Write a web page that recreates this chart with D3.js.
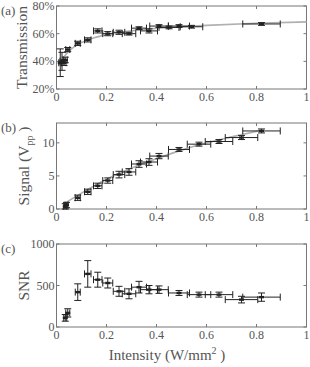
<!DOCTYPE html>
<html lang="en">
<head>
<meta charset="UTF-8">
<script src="https://d3js.org/d3.v7.min.js"></script>
<style>
  body { margin: 0; background: #fff; }
  svg text { fill: #555; }
</style>
</head>
<body>
<svg id="chart" width="310" height="367"></svg>
<script>
// Panel (a): transmission vs intensity
const transX    = [0.015, 0.022, 0.03, 0.035, 0.045, 0.085, 0.125, 0.165, 0.205, 0.25, 0.29, 0.33, 0.37, 0.41, 0.45, 0.49, 0.54, 0.82];
const transY    = [39, 40, 39, 41, 48.5, 53, 55.5, 62, 60, 61, 60, 64, 62, 65.5, 64.5, 65.5, 65, 67];
const transXErr = [0.006, 0.008, 0.008, 0.008, 0.008, 0.01, 0.013, 0.017, 0.02, 0.023, 0.027, 0.03, 0.034, 0.037, 0.04, 0.042, 0.045, 0.075];
const transYErr = [10, 6.5, 2, 2, 1.5, 1.5, 1.5, 1.5, 1.5, 1.5, 1, 1, 1.5, 1, 1, 1, 1, 1];
const transFitX = [0.01, 0.02, 0.04, 0.06, 0.08, 0.1, 0.15, 0.2, 0.3, 0.4, 0.5, 0.6, 0.8, 1.0];
const transFitY = [37, 40.5, 45.5, 49, 51.5, 53.5, 57, 59.3, 62, 63.8, 65, 66, 67.5, 68.5];

// Panel (b): signal (Vpp) vs intensity
const sigX    = [0.035, 0.04, 0.085, 0.125, 0.165, 0.205, 0.25, 0.29, 0.33, 0.37, 0.41, 0.49, 0.57, 0.65, 0.74, 0.82];
const sigY    = [0.4, 0.6, 1.7, 2.6, 3.5, 4.3, 5.2, 5.6, 6.8, 7.1, 8.0, 9.0, 9.8, 10.2, 10.8, 11.8];
const sigXErr = [0.006, 0.006, 0.01, 0.013, 0.017, 0.02, 0.023, 0.027, 0.03, 0.034, 0.037, 0.042, 0.047, 0.055, 0.065, 0.075];
const sigYErr = [0.4, 0.4, 0.4, 0.4, 0.4, 0.4, 0.5, 0.5, 0.5, 0.5, 0.4, 0.3, 0.3, 0.3, 0.3, 0.3];
const sigFitX = [0.03, 0.1, 0.2, 0.3, 0.4, 0.5, 0.6, 0.7, 0.82];
const sigFitY = [0.8, 2.4, 4.5, 6.2, 7.6, 8.9, 10.0, 10.9, 11.9];

// Panel (c): SNR vs intensity
const snrX    = [0.035, 0.045, 0.085, 0.125, 0.165, 0.205, 0.25, 0.29, 0.33, 0.37, 0.41, 0.49, 0.57, 0.65, 0.74, 0.82];
const snrY    = [110, 170, 420, 640, 570, 530, 430, 400, 480, 450, 450, 410, 390, 390, 330, 360];
const snrXErr = [0.006, 0.008, 0.01, 0.013, 0.017, 0.02, 0.023, 0.027, 0.03, 0.034, 0.037, 0.042, 0.047, 0.055, 0.065, 0.075];
const snrYErr = [40, 50, 100, 160, 90, 60, 60, 60, 70, 50, 45, 30, 30, 30, 40, 50];

const xTicks = [0, 0.2, 0.4, 0.6, 0.8, 1];

const serif = "Liberation Serif";
const svg = d3.select("#chart");
const x = d3.scaleLinear().domain([0, 1]).range([56.5, 306.5]);
const axisColor = "#777";

function panel(cfg) {
  const y = d3.scaleLinear().domain(cfg.domain).range([cfg.bottom, cfg.top]);
  const g = svg.append("g");

  // box
  g.append("rect")
    .attr("x", x(0)).attr("y", cfg.top)
    .attr("width", x(1) - x(0)).attr("height", cfg.bottom - cfg.top)
    .attr("fill", "none").attr("stroke", axisColor).attr("stroke-width", 1);

  // inward ticks, bottom/top
  xTicks.forEach(t => {
    g.append("line").attr("x1", x(t)).attr("x2", x(t))
      .attr("y1", cfg.bottom).attr("y2", cfg.bottom - 3).attr("stroke", axisColor);
    g.append("line").attr("x1", x(t)).attr("x2", x(t))
      .attr("y1", cfg.top).attr("y2", cfg.top + 3).attr("stroke", axisColor);
    g.append("text").attr("x", x(t)).attr("y", cfg.bottom + 12)
      .attr("font-family", serif)
      .attr("text-anchor", "middle").attr("font-size", 12).text(d3.format("")(t));
  });
  cfg.yTicks.forEach((t, i) => {
    g.append("line").attr("x1", x(0)).attr("x2", x(0) + 3)
      .attr("y1", y(t)).attr("y2", y(t)).attr("stroke", axisColor);
    g.append("line").attr("x1", x(1)).attr("x2", x(1) - 3)
      .attr("y1", y(t)).attr("y2", y(t)).attr("stroke", axisColor);
    g.append("text").attr("x", x(0) - 2).attr("y", y(t) + 4)
      .attr("font-family", serif)
      .attr("text-anchor", "end").attr("font-size", 12).text(cfg.yTickLabels[i]);
  });

  // fit curve
  if (cfg.fitX) {
    const pts = cfg.fitX.map((v, i) => [v, cfg.fitY[i]]);
    g.append("path").datum(pts)
      .attr("fill", "none").attr("stroke", "#b0b0b0").attr("stroke-width", 1.6)
      .attr("d", d3.line().x(d => x(d[0])).y(d => y(d[1])).curve(d3.curveMonotoneX));
  }

  // error bars
  const eb = g.append("g").attr("stroke", "#222").attr("stroke-width", 1);
  cfg.xs.forEach((xv, i) => {
    const yv = cfg.ys[i], xe = cfg.xerr[i], ye = cfg.yerr[i];
    const cx = x(xv), cy = y(yv);
    const capH = 3.5;
    eb.append("line").attr("x1", x(xv - xe)).attr("x2", x(xv + xe)).attr("y1", cy).attr("y2", cy);
    eb.append("line").attr("x1", x(xv - xe)).attr("x2", x(xv - xe)).attr("y1", cy - capH).attr("y2", cy + capH);
    eb.append("line").attr("x1", x(xv + xe)).attr("x2", x(xv + xe)).attr("y1", cy - capH).attr("y2", cy + capH);
    eb.append("line").attr("x1", cx).attr("x2", cx).attr("y1", y(yv - ye)).attr("y2", y(yv + ye));
    eb.append("line").attr("x1", cx - capH).attr("x2", cx + capH).attr("y1", y(yv - ye)).attr("y2", y(yv - ye));
    eb.append("line").attr("x1", cx - capH).attr("x2", cx + capH).attr("y1", y(yv + ye)).attr("y2", y(yv + ye));
    g.append("rect").attr("x", cx - 2.5).attr("y", cy - 1.2).attr("width", 5).attr("height", 2.4).attr("fill", "#222");
  });

  // labels
  g.append("text").attr("x", 1).attr("y", cfg.top + 9)
    .attr("font-family", serif)
    .attr("font-size", 13).text(cfg.tag);
  g.append("text")
    .attr("transform", `translate(${cfg.labelX},${(cfg.top + cfg.bottom) / 2}) rotate(-90)`)
    .attr("font-family", serif)
    .attr("text-anchor", "middle").attr("font-size", 15.5)
    .html(cfg.ylabel);
  return y;
}

panel({
  tag: "(a)", top: 6, bottom: 89, domain: [20, 80],
  yTicks: [20, 40, 60, 80], yTickLabels: ["20%", "40%", "60%", "80%"],
  xs: transX, ys: transY, xerr: transXErr, yerr: transYErr,
  fitX: transFitX, fitY: transFitY,
  labelX: 27, ylabel: "Transmission"
});

panel({
  tag: "(b)", top: 123, bottom: 209, domain: [0, 13],
  yTicks: [0, 5, 10], yTickLabels: ["0", "5", "10"],
  xs: sigX, ys: sigY, xerr: sigXErr, yerr: sigYErr,
  fitX: sigFitX, fitY: sigFitY,
  labelX: 29, ylabel: 'Signal (V<tspan font-size="10" dy="4">pp</tspan><tspan dy="-4"> )</tspan>'
});

panel({
  tag: "(c)", top: 244, bottom: 327, domain: [0, 1000],
  yTicks: [0, 500, 1000], yTickLabels: ["0", "500", "1000"],
  xs: snrX, ys: snrY, xerr: snrXErr, yerr: snrYErr,
  labelX: 29, ylabel: "SNR"
});

svg.append("text").attr("x", 167).attr("y", 360)
  .attr("font-family", serif)
  .attr("text-anchor", "middle").attr("font-size", 15)
  .html('Intensity (W/mm<tspan font-size="10" dy="-6">2</tspan><tspan dy="6"> )</tspan>');
</script>
</body>
</html>
